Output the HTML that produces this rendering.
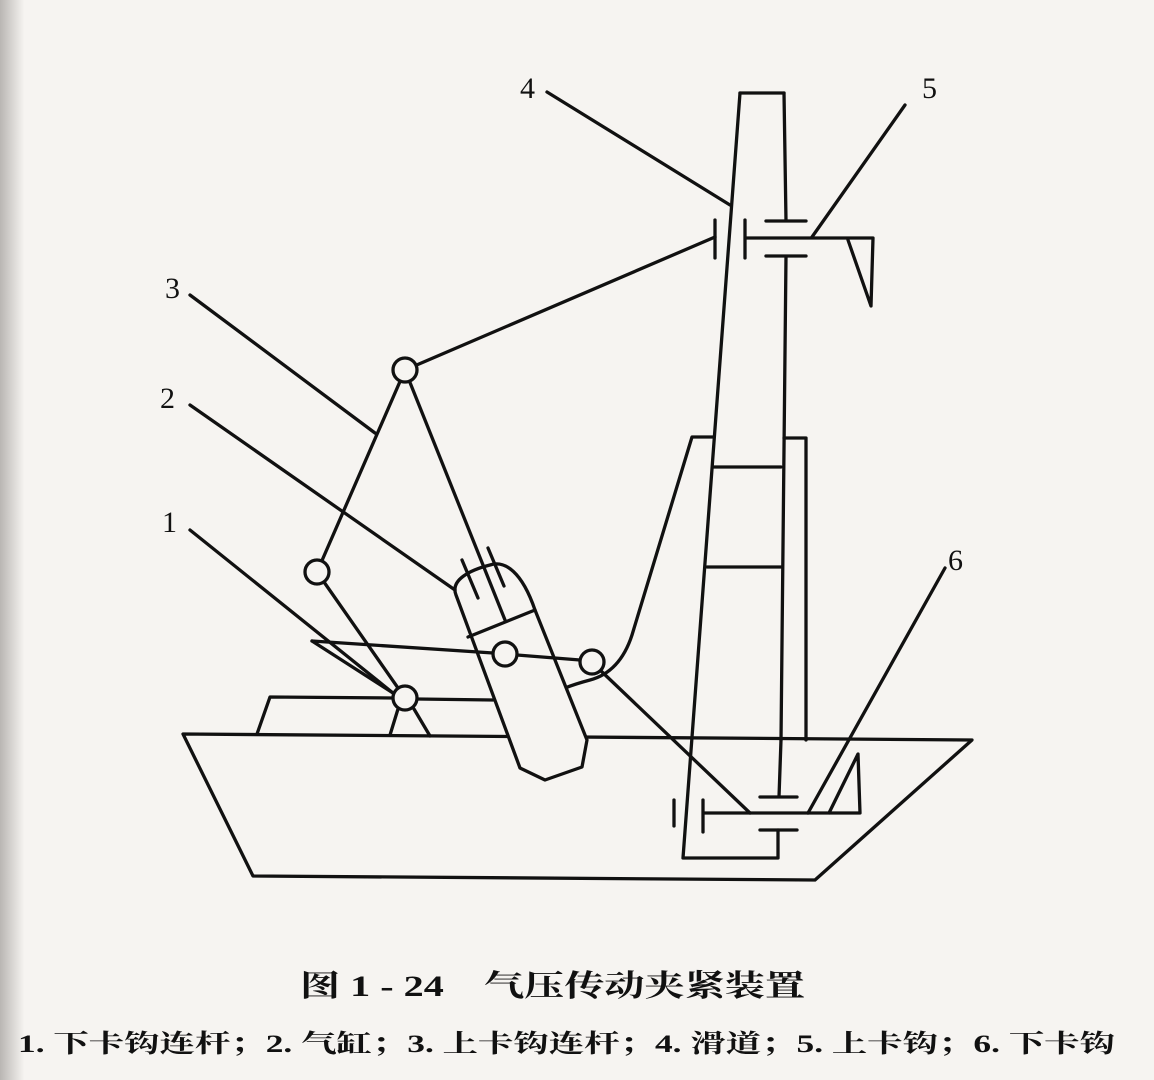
<!DOCTYPE html>
<html><head><meta charset="utf-8"><style>
html,body{margin:0;padding:0;background:#f5f3f0;}
svg{display:block}
</style></head><body>
<svg width="1154" height="1080" viewBox="0 0 1154 1080" xmlns="http://www.w3.org/2000/svg">
<defs><linearGradient id="lg" x1="0" x2="1" y1="0" y2="0">
<stop offset="0" stop-color="#b9b6b3"/><stop offset="1" stop-color="#f5f3f0"/></linearGradient></defs>
<rect x="0" y="0" width="1154" height="1080" fill="#f6f4f1"/>
<rect x="0" y="0" width="24" height="1080" fill="url(#lg)"/>
<g fill="none" stroke="#111" stroke-width="3.3" stroke-linejoin="round" stroke-linecap="round">
<path d="M183,734 L972,740 L815,880 L253,876 Z"/>
<path d="M257,734 L270,697 L393,698"/>
<path d="M417,699 L493,700"/>
<path d="M398,709 L390,735 M414,709 L430,736"/>
<path d="M740,93 L784,93"/>
<path d="M740,93 L683,858 L778,858 L778,830"/>
<path d="M760,830 L797,830"/>
<path d="M760,797 L797,797 M779,797 L781,740"/>
<path d="M781,740 L786,256 M766,256 L806,256"/>
<path d="M766,221 L806,221 M786,221 L784,93"/>
<path d="M713,467 L781,467 M707,567 L781,567"/>
<path d="M713,437 L692,437 L632,635 Q620,672 590,680 Q575,684 565,688"/>
<path d="M784,438 L806,438 L806,740"/>
<path d="M745,220 L745,258 M715,220 L715,258 M745,238 L873,238 L871,306 L848,240"/>
<path d="M405,370 L715,237"/>
<path d="M703,800 L703,832 M674,800 L674,826 M703,813 L860,813 L858,754 L829,813"/>
<path d="M600,670 L750,813"/>
<path d="M317,572 L405,370 M317,572 L405,698"/>
<path fill="#f6f4f1" d="M456,595 L520,768 L545,780 L582,767 L587,740 L535,610 C522,572 505,560 490,565 C470,570 450,580 456,595 Z"/>
<path d="M405,370 L505,620"/>
<path d="M468,637 L535,610"/>
<path d="M462,560 L478,598 M488,548 L504,586"/>
<path d="M312,641 L493,653 M517,655 L580,660"/>
<path d="M312,641 L393,693"/>
<path d="M190,295 L375,433"/>
<path d="M190,405 L455,590"/>
<path d="M190,530 L393,693"/>
<path d="M547,92 L730,205"/>
<path d="M905,105 L812,237"/>
<path d="M945,568 L808,813"/>
</g>
<g fill="#f6f4f1" stroke="#111" stroke-width="3.3">
<circle cx="405" cy="370" r="12"/>
<circle cx="317" cy="572" r="12"/>
<circle cx="405" cy="698" r="12"/>
<circle cx="505" cy="654" r="12"/>
<circle cx="592" cy="662" r="12"/>
</g>
<g font-family="Liberation Serif, serif" font-size="30" fill="#111">
<text x="165" y="298">3</text>
<text x="160" y="408">2</text>
<text x="162" y="532">1</text>
<text x="520" y="98">4</text>
<text x="922" y="98">5</text>
<text x="948" y="570">6</text>
</g>
<text x="300" y="996" font-family="Liberation Serif, 'Noto Serif CJK SC', serif" font-size="30" font-weight="bold" fill="#111" textLength="505" lengthAdjust="spacingAndGlyphs">图 1 - 24　气压传动夹紧装置</text>
<text x="18" y="1052" font-family="Liberation Serif, 'Noto Serif CJK SC', serif" font-size="25" font-weight="bold" fill="#111" textLength="1097" lengthAdjust="spacingAndGlyphs">1. 下卡钩连杆；2. 气缸；3. 上卡钩连杆；4. 滑道；5. 上卡钩；6. 下卡钩</text>
</svg>
</body></html>
